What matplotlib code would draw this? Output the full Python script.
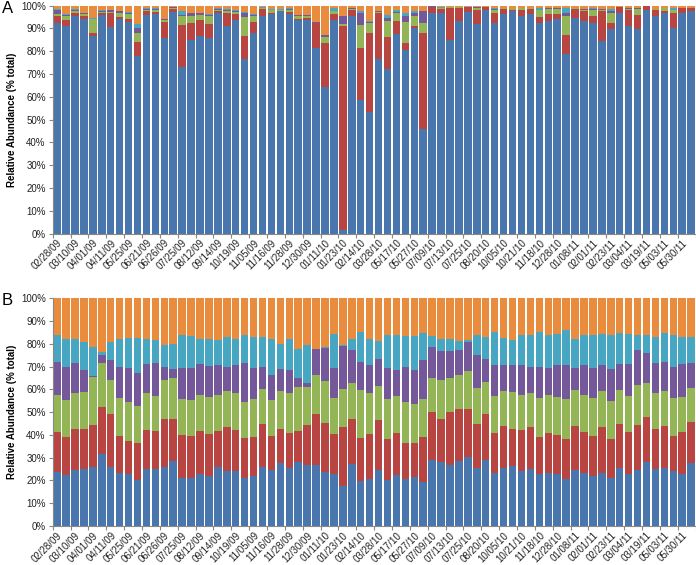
import matplotlib
matplotlib.use("Agg")
import matplotlib.pyplot as plt
import numpy as np

plt.rcParams['font.family'] = ['Liberation Sans', 'DejaVu Sans']

date_labels = ["02/28/09", "03/10/09", "04/01/09", "04/11/09", "05/25/09", "06/21/09",
               "06/26/09", "07/25/09", "08/12/09", "09/14/09", "10/19/09", "11/05/09",
               "11/16/09", "11/28/09", "12/30/09", "01/11/10", "01/23/10", "02/14/10",
               "03/28/10", "05/17/10", "05/27/10", "07/09/10", "07/13/10", "07/25/10",
               "08/20/10", "10/05/10", "10/21/10", "11/18/10", "12/28/10", "01/08/11",
               "02/01/11", "02/23/11", "03/04/11", "03/19/11", "05/03/11", "05/30/11"]

# Panel A: relative abundance (%) per sample, six series (bottom to top)
a_blue = [92.3, 90.9, 95.5, 94.0, 86.7, 96.0, 90.6, 94.0, 93.0, 78.0, 96.0, 96.3, 85.7, 97.3, 73.0, 85.0,
          86.7, 86.0, 96.8, 91.0, 93.8, 76.4, 88.0, 95.6, 96.5, 97.5, 96.5, 93.8, 93.8, 81.6, 64.3, 93.8,
          1.5, 95.6, 58.4, 53.2, 76.8, 72.4, 87.6, 80.5, 90.1, 45.9, 97.0, 97.0, 85.0, 93.5, 97.3, 92.0,
          97.9, 92.3, 96.5, 97.5, 95.6, 96.5, 92.6, 93.5, 94.1, 79.0, 94.5, 93.5, 92.6, 84.7, 89.7, 96.8,
          91.2, 89.7, 98.2, 95.6, 97.0, 90.1, 97.0, 97.5]
a_red = [3.0, 3.0, 1.5, 1.3, 1.3, 0.7, 6.2, 1.0, 1.0, 6.0, 1.5, 1.0, 7.3, 1.2, 18.5, 7.6,
         7.0, 6.0, 0.7, 6.0, 2.7, 10.3, 4.7, 2.9, 0.5, 0.3, 0.6, 0.3, 1.0, 10.7, 19.2, 2.7,
         89.4, 2.7, 22.9, 35.0, 20.2, 13.7, 5.9, 3.3, 1.1, 42.0, 2.5, 1.5, 14.0, 5.5, 1.7, 6.2,
         1.6, 4.7, 2.0, 0.5, 2.6, 2.0, 2.4, 3.0, 2.4, 8.2, 4.0, 4.0, 3.0, 12.8, 2.9, 2.6,
         6.7, 6.3, 1.5, 2.3, 0.8, 6.9, 2.0, 1.5]
a_green = [1.2, 1.4, 0.7, 1.2, 6.0, 0.5, 0.6, 1.8, 2.5, 4.2, 0.7, 0.7, 0.8, 0.5, 4.0, 3.0,
           2.2, 3.3, 0.8, 0.8, 0.8, 8.3, 2.6, 0.3, 1.0, 0.3, 1.2, 1.5, 0.5, 0.3, 2.9, 1.0,
           1.2, 0.2, 10.3, 4.1, 0.3, 7.4, 3.3, 9.2, 4.4, 4.4, 0.1, 0.5, 0.3, 0.3, 0.2, 0.8,
           0.0, 1.2, 0.5, 0.5, 0.6, 0.5, 2.9, 2.0, 2.0, 8.4, 0.3, 0.8, 2.6, 0.7, 4.2, 0.0,
           0.6, 2.5, 0.0, 0.7, 1.0, 1.0, 0.0, 0.0]
a_purple = [1.5, 0.7, 0.5, 0.3, 0.3, 0.5, 0.5, 0.7, 0.5, 2.0, 0.5, 0.5, 0.3, 0.3, 0.5, 1.0,
            0.8, 0.7, 0.3, 0.5, 0.5, 1.8, 0.7, 0.3, 0.3, 0.2, 0.4, 0.2, 0.5, 0.2, 0.6, 0.3,
            3.2, 0.3, 5.4, 0.7, 0.3, 1.0, 0.3, 2.6, 1.2, 5.2, 0.1, 0.2, 0.2, 0.2, 0.1, 0.3,
            0.0, 0.5, 0.0, 0.0, 0.3, 0.0, 0.3, 0.3, 0.3, 1.2, 0.1, 0.1, 0.3, 0.3, 0.7, 0.0,
            0.3, 0.3, 0.0, 0.0, 0.0, 0.3, 0.0, 0.0]
a_cyan = [0.5, 0.4, 0.3, 0.2, 0.2, 0.3, 0.3, 0.3, 0.3, 1.8, 0.3, 0.3, 0.2, 0.2, 1.5, 0.4,
          0.3, 0.3, 0.2, 0.2, 0.2, 0.5, 0.3, 0.2, 0.2, 0.1, 0.3, 0.2, 0.3, 0.2, 0.3, 1.2,
          0.3, 0.2, 0.8, 0.3, 0.2, 1.5, 1.0, 1.0, 0.7, 0.3, 0.1, 0.1, 0.1, 0.1, 0.0, 0.0,
          0.0, 0.3, 0.0, 0.0, 0.0, 0.0, 0.8, 0.3, 0.2, 2.2, 0.1, 0.1, 0.5, 0.2, 1.0, 0.0,
          0.0, 0.3, 0.0, 0.0, 0.0, 0.8, 0.0, 0.0]
a_orange = [1.5, 3.6, 1.5, 3.0, 5.5, 2.0, 1.8, 2.2, 2.7, 8.0, 1.0, 1.2, 5.7, 0.5, 2.5, 3.0,
            3.0, 3.7, 1.2, 1.5, 2.0, 2.7, 3.7, 0.7, 1.5, 1.6, 1.0, 4.0, 3.9, 7.0, 12.7, 1.0,
            4.4, 1.0, 2.2, 6.7, 2.2, 4.0, 1.9, 3.4, 2.5, 2.2, 0.2, 0.7, 0.4, 0.4, 0.7, 0.7,
            0.5, 1.0, 1.0, 1.5, 0.9, 1.0, 1.0, 0.9, 1.0, 1.0, 1.0, 1.5, 1.0, 1.3, 1.5, 0.6,
            1.2, 0.9, 0.3, 1.4, 1.2, 0.9, 1.0, 1.0]

# Panel B
b_blue = [23.8, 22.4, 24.6, 24.9, 26.0, 31.6, 26.0, 23.4, 22.8, 20.2, 24.9, 24.9, 25.7, 28.7, 20.9, 21.3,
          22.8, 21.9, 26.0, 24.3, 24.3, 20.9, 21.9, 26.0, 24.6, 27.5, 25.3, 28.2, 26.8, 26.8, 23.8, 22.8,
          17.5, 27.2, 19.9, 20.5, 24.6, 20.2, 22.4, 20.5, 21.6, 19.4, 28.9, 28.2, 26.8, 28.7, 30.1, 25.3,
          28.9, 23.1, 25.3, 26.3, 24.3, 24.9, 22.8, 23.4, 22.8, 20.5, 24.6, 23.4, 21.9, 23.4, 20.9, 25.3,
          22.8, 24.6, 28.2, 24.9, 25.3, 24.3, 22.8, 27.5]
b_red = [17.3, 16.8, 17.9, 17.5, 18.3, 20.7, 23.1, 16.1, 14.6, 16.3, 17.2, 16.8, 21.1, 18.5, 19.0, 18.2,
         18.9, 18.5, 15.7, 19.0, 17.8, 17.6, 17.3, 19.0, 14.9, 15.3, 15.6, 13.5, 17.5, 22.6, 21.5, 17.6,
         26.1, 20.0, 18.6, 20.1, 21.9, 17.8, 18.5, 16.0, 14.7, 19.8, 21.2, 19.0, 23.3, 22.5, 21.5, 19.7,
         20.5, 17.8, 18.6, 16.1, 17.8, 18.4, 16.4, 17.5, 17.1, 17.5, 19.3, 18.0, 17.6, 20.2, 17.1, 19.4,
         18.6, 19.7, 19.8, 17.9, 18.6, 15.2, 18.6, 18.0]
b_green = [16.4, 16.1, 15.7, 16.5, 21.2, 19.5, 14.9, 16.8, 17.1, 16.1, 16.5, 15.5, 17.2, 17.6, 16.1, 15.8,
           16.0, 16.3, 16.0, 15.9, 16.1, 16.0, 16.5, 15.1, 15.8, 16.4, 17.3, 19.4, 16.8, 16.8, 18.3, 15.9,
           16.5, 15.4, 21.1, 17.6, 15.0, 18.0, 16.3, 18.0, 17.5, 16.8, 14.9, 16.8, 14.7, 15.0, 16.4, 15.4,
           13.9, 16.3, 15.3, 16.5, 15.4, 15.3, 17.1, 16.8, 16.8, 17.7, 15.7, 16.3, 16.8, 15.6, 16.8, 14.9,
           15.8, 17.8, 15.0, 15.4, 15.3, 16.8, 15.3, 15.0]
b_purple = [14.6, 14.6, 13.6, 9.5, 0.3, 3.2, 8.8, 13.6, 14.7, 14.8, 12.7, 14.6, 5.9, 4.1, 13.4, 13.9,
            13.6, 13.6, 13.2, 10.7, 12.4, 17.3, 13.5, 9.8, 11.2, 9.7, 10.2, 3.7, 1.5, 11.4, 14.8, 12.9,
            19.1, 14.6, 12.5, 12.7, 11.7, 13.4, 11.2, 15.4, 14.6, 16.8, 13.7, 12.8, 12.0, 11.0, 12.7, 14.9,
            10.2, 13.7, 11.7, 12.0, 13.1, 11.3, 13.6, 11.7, 14.2, 14.9, 9.6, 13.2, 12.9, 11.7, 14.1, 11.7,
            14.1, 15.1, 13.2, 13.6, 12.9, 13.6, 14.6, 11.0]
b_cyan = [12.0, 12.4, 10.5, 12.2, 12.9, 1.5, 7.8, 12.4, 13.4, 15.2, 11.0, 9.8, 9.8, 11.2, 14.7, 14.3,
          11.0, 12.0, 10.7, 13.1, 11.4, 12.3, 13.8, 13.1, 15.8, 11.2, 13.9, 13.1, 16.8, 0.3, 0.3, 15.3,
          0.5, 4.8, 13.1, 11.4, 7.9, 14.4, 15.4, 13.6, 15.1, 12.1, 4.8, 5.2, 5.2, 3.9, 0.8, 8.8,
          9.5, 14.3, 11.7, 10.7, 13.5, 13.9, 15.3, 14.4, 13.6, 15.4, 12.8, 13.2, 14.9, 13.6, 15.2, 13.6,
          13.2, 6.6, 7.6, 11.2, 12.8, 14.2, 11.7, 11.5]
b_orange = [15.9, 17.7, 17.7, 19.4, 21.3, 23.5, 19.4, 17.7, 17.4, 17.4, 17.7, 18.4, 20.3, 19.9, 15.9, 16.5,
            17.7, 17.7, 18.4, 17.0, 18.0, 15.9, 17.0, 17.0, 17.7, 19.9, 17.7, 22.1, 20.6, 22.1, 21.3, 15.5,
            20.3, 18.0, 14.8, 17.7, 18.9, 16.2, 16.2, 16.5, 16.5, 15.1, 16.5, 18.0, 18.0, 18.9, 18.5, 15.9,
            17.0, 14.8, 17.4, 18.4, 15.9, 16.2, 14.8, 16.2, 15.5, 14.0, 18.0, 15.9, 15.9, 15.5, 15.9, 15.1,
            15.5, 16.2, 16.2, 17.0, 15.1, 15.9, 17.0, 17.0]

colors = ["#4a76ae", "#b94542", "#93b556", "#74589a", "#47a6c2", "#ea8c3e"]

fig = plt.figure(figsize=(6.96, 5.65), dpi=100)
axA = fig.add_axes([0.0757, 0.5867, 0.9237, 0.4032])
axB = fig.add_axes([0.0757, 0.0690, 0.9237, 0.4030])

def draw(ax, series):
    n = len(series[0])
    x = np.arange(n)
    bottom = np.zeros(n)
    for vals, c in zip(series, colors):
        v = np.array(vals)
        ax.bar(x, v, bottom=bottom, width=0.84, color=c, linewidth=0)
        bottom += v
    ax.set_xlim(-0.5, n - 0.5)
    ax.set_ylim(0, 100)
    ax.set_yticks(np.arange(0, 101, 10))
    ax.set_yticklabels([f"{t}%" for t in range(0, 101, 10)], fontsize=7, color="#222222")
    ax.tick_params(axis='y', length=3, width=0.8, color="#888888", pad=2)
    ax.set_xticks(np.arange(0, n, 2)[:len(date_labels)])
    ax.set_xticklabels(date_labels, rotation=45, ha='right', va='top',
                       rotation_mode='anchor', fontsize=7, color="#222222")
    ax.set_xticks(np.arange(-0.5, n, 2), minor=True)
    ax.tick_params(axis='x', which='major', length=0, pad=3)
    ax.tick_params(axis='x', which='minor', length=3, width=0.8, color="#888888")
    for s in ['top', 'right']:
        ax.spines[s].set_visible(False)
    for s in ['left', 'bottom']:
        ax.spines[s].set_color("#888888")
        ax.spines[s].set_linewidth(0.8)
    ax.set_ylabel("Relative Abundance (% total)", fontsize=7, fontweight='bold')
    ax.yaxis.set_label_coords(-0.055, 0.5)

draw(axA, [a_blue, a_red, a_green, a_purple, a_cyan, a_orange])
draw(axB, [b_blue, b_red, b_green, b_purple, b_cyan, b_orange])

fig.text(0.003, 0.998, "A", fontsize=12, va='top', ha='left')
fig.text(0.003, 0.482, "B", fontsize=12, va='top', ha='left')

fig.savefig("out.png", dpi=100)
